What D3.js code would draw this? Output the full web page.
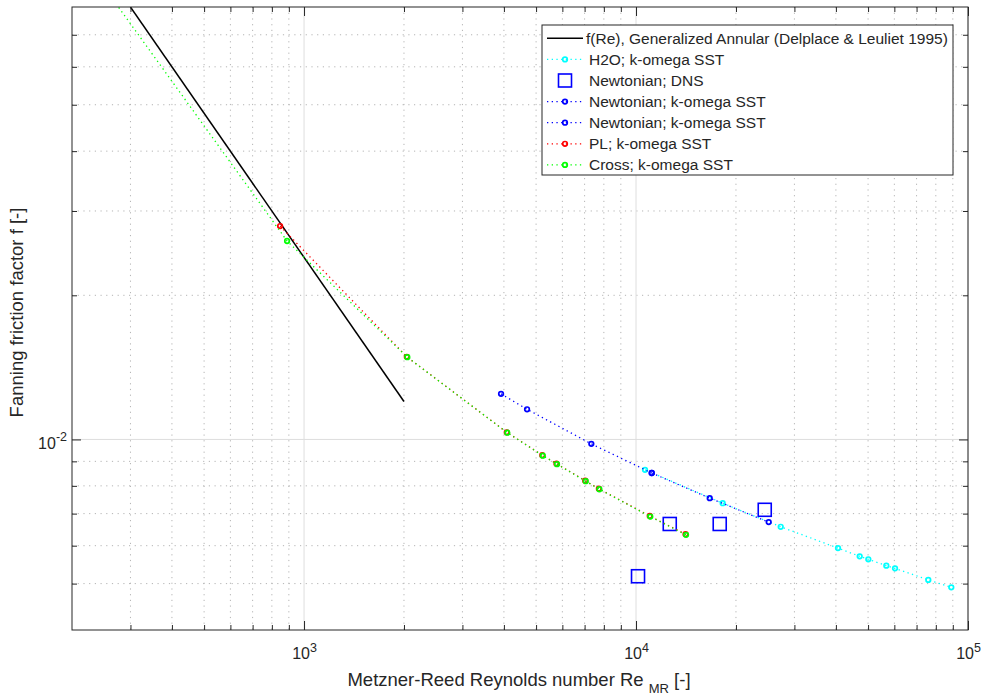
<!DOCTYPE html>
<html><head><meta charset="utf-8">
<script src="https://cdn.jsdelivr.net/npm/d3@7"></script>
<style>
body{margin:0;background:#fff}
svg{display:block}
text{font-family:"Liberation Sans",Arial,Helvetica,sans-serif;fill:#262626}
</style>
</head><body><svg id="c" width="988" height="698"></svg>
<script>
// ---------------- data ----------------
const corrRe = [300, 2000];
const corrF  = [0.08, 0.012];
const h2oRe  = [10643, 18243, 27280, 40590, 47180, 50090, 56750, 60280, 75930, 89060];
const h2oF   = [0.00864, 0.00736, 0.00657, 0.00593, 0.00570, 0.00562, 0.00545, 0.00538, 0.00509, 0.00491];
const dnsRe  = [10140, 12636, 17870, 24420];
const dnsF   = [0.00518, 0.00666, 0.00666, 0.00713];
const newt1Re = [3921, 4696, 7335, 11151];
const newt1F  = [0.01245, 0.01156, 0.00979, 0.00851];
const newt2Re = [11151, 16672, 25100];
const newt2F  = [0.00851, 0.00754, 0.00672];
const plRe   = [847, 2040, 4080, 5220, 5760, 7030, 7730, 11000, 14100];
const plF    = [0.0279, 0.01488, 0.01035, 0.00927, 0.0089, 0.0082, 0.00789, 0.00692, 0.00634];
const crossRe = [200, 889, 2047, 4096, 5236, 5781, 7056, 7755, 11040, 14145];
const crossF  = [0.109, 0.02597, 0.01485, 0.01033, 0.00925, 0.00888, 0.00818, 0.00787, 0.0069, 0.00632];

const legendLabels = [
  "f(Re), Generalized Annular (Delplace & Leuliet 1995)",
  "H2O; k-omega SST",
  "Newtonian; DNS",
  "Newtonian; k-omega SST",
  "Newtonian; k-omega SST",
  "PL; k-omega SST",
  "Cross; k-omega SST"
];
const xMajor = [1e3, 1e4, 1e5];
const xMajorExp = ["3", "4", "5"];
const xMinor = [300,400,500,600,700,800,900,2000,3000,4000,5000,6000,7000,8000,9000,20000,30000,40000,50000,60000,70000,80000,90000];
const yMajor = [0.01];
const yMajorExp = ["-2"];
const yMinor = [0.005,0.006,0.007,0.008,0.009,0.02,0.03,0.04,0.05,0.06,0.07];
const xLabelMain = "Metzner-Reed Reynolds number Re ";
const xLabelSub = "MR";
const xLabelEnd = " [-]";
const yLabel = "Fanning friction factor f [-]";

// ---------------- layout ----------------
const L = 72, R = 968, T = 7, B = 630;
const svg = d3.select("#c");
const x = d3.scaleLog().domain([200, 1e5]).range([L, R]);
const y = d3.scaleLog().domain([0.004, 0.08]).range([B, T]);

svg.append("rect").attr("width", 988).attr("height", 698).attr("fill", "#fff");

// grid
const grid = svg.append("g");
grid.selectAll(".xm").data(xMinor).enter().append("line")
  .attr("x1", d => x(d)).attr("x2", d => x(d)).attr("y1", T).attr("y2", B)
  .attr("stroke", "#b4b4b4").attr("stroke-width", 1).attr("stroke-dasharray", "1.2 4.5");
grid.selectAll(".ym").data(yMinor).enter().append("line")
  .attr("y1", d => y(d)).attr("y2", d => y(d)).attr("x1", L).attr("x2", R)
  .attr("stroke", "#b4b4b4").attr("stroke-width", 1).attr("stroke-dasharray", "1.2 4.5");
grid.selectAll(".xM").data(xMajor).enter().append("line")
  .attr("x1", d => x(d)).attr("x2", d => x(d)).attr("y1", T).attr("y2", B)
  .attr("stroke", "#dedede").attr("stroke-width", 1);
grid.selectAll(".yM").data(yMajor).enter().append("line")
  .attr("y1", d => y(d)).attr("y2", d => y(d)).attr("x1", L).attr("x2", R)
  .attr("stroke", "#dedede").attr("stroke-width", 1);

// clip
svg.append("clipPath").attr("id", "clip").append("rect")
  .attr("x", L).attr("y", T).attr("width", R - L).attr("height", B - T);
const plot = svg.append("g").attr("clip-path", "url(#clip)");

const line = d3.line().x(d => x(d[0])).y(d => y(d[1]));
const zip = (a, b) => a.map((v, i) => [v, b[i]]);
const MR = 2.3, MSW = 1.7;

function series(re, f, color, dotted, markers) {
  const pts = zip(re, f);
  plot.append("path").datum(pts).attr("d", line)
    .attr("fill", "none").attr("stroke", color)
    .attr("stroke-width", dotted ? 1.3 : 1.5)
    .attr("stroke-dasharray", dotted ? "1.3 3.4" : null);
  if (markers) {
    plot.selectAll(null).data(pts).enter().append("circle")
      .attr("cx", d => x(d[0])).attr("cy", d => y(d[1])).attr("r", MR)
      .attr("fill", "none").attr("stroke", color).attr("stroke-width", MSW);
  }
}
series(corrRe, corrF, "#000", false, false);
series(h2oRe, h2oF, "#00ffff", true, true);
// DNS squares
plot.selectAll(null).data(zip(dnsRe, dnsF)).enter().append("rect")
  .attr("x", d => x(d[0]) - 6.5).attr("y", d => y(d[1]) - 6.5)
  .attr("width", 13).attr("height", 13)
  .attr("fill", "none").attr("stroke", "#0000ff").attr("stroke-width", 1.6);
series(newt1Re, newt1F, "#0000ff", true, true);
series(newt2Re, newt2F, "#0000ff", true, true);
series(plRe, plF, "#ff0000", true, true);
series(crossRe, crossF, "#00ff00", true, true);

// axes (ticks inside, all four sides)
const fmtNone = () => "";
function styleAxis(g) {
  g.select(".domain").remove();
  g.selectAll(".tick line").attr("stroke", "#262626").attr("stroke-width", 1);
}
svg.append("g").attr("transform", `translate(0,${B})`)
  .call(d3.axisBottom(x).tickValues(xMinor).tickSize(-5).tickFormat(fmtNone)).call(styleAxis);
svg.append("g").attr("transform", `translate(0,${T})`)
  .call(d3.axisTop(x).tickValues(xMinor).tickSize(-5).tickFormat(fmtNone)).call(styleAxis);
svg.append("g").attr("transform", `translate(${L},0)`)
  .call(d3.axisLeft(y).tickValues(yMinor).tickSize(-5).tickFormat(fmtNone)).call(styleAxis);
svg.append("g").attr("transform", `translate(${R},0)`)
  .call(d3.axisRight(y).tickValues(yMinor).tickSize(-5).tickFormat(fmtNone)).call(styleAxis);
svg.append("g").attr("transform", `translate(0,${T})`)
  .call(d3.axisTop(x).tickValues(xMajor).tickSize(-9).tickFormat(fmtNone)).call(styleAxis);
svg.append("g").attr("transform", `translate(${R},0)`)
  .call(d3.axisRight(y).tickValues(yMajor).tickSize(-9).tickFormat(fmtNone)).call(styleAxis);

const xAx = svg.append("g").attr("transform", `translate(0,${B})`)
  .call(d3.axisBottom(x).tickValues(xMajor).tickSize(-9).tickFormat(fmtNone)).call(styleAxis);
xAx.selectAll(".tick text").each(function(d, i) {
  const t = d3.select(this).attr("y", 29).attr("dy", 0).attr("x", 0)
    .attr("text-anchor", "middle").style("font-size", "16px").attr("fill", "#262626");
  t.text(null);
  t.append("tspan").text("10");
  t.append("tspan").attr("dy", -7.5).style("font-size", "12.5px").text(xMajorExp[i]);
});
const yAx = svg.append("g").attr("transform", `translate(${L},0)`)
  .call(d3.axisLeft(y).tickValues(yMajor).tickSize(-9).tickFormat(fmtNone)).call(styleAxis);
yAx.selectAll(".tick text").each(function(d, i) {
  const t = d3.select(this).attr("x", -5).attr("dy", 0).attr("y", 9)
    .attr("text-anchor", "end").style("font-size", "16px").attr("fill", "#262626");
  t.text(null);
  t.append("tspan").text("10");
  t.append("tspan").attr("dy", -7.5).style("font-size", "12.5px").text(yMajorExp[i]);
});

// box
svg.append("rect").attr("x", L).attr("y", T).attr("width", R - L).attr("height", B - T)
  .attr("fill", "none").attr("stroke", "#262626").attr("stroke-width", 1);

// axis labels
const xl = svg.append("text").attr("x", (L + R) / 2 - 1).attr("y", 686)
  .attr("text-anchor", "middle").style("font-size", "18.5px");
xl.append("tspan").text(xLabelMain);
xl.append("tspan").attr("dy", 7).style("font-size", "13px").text(xLabelSub);
xl.append("tspan").attr("dy", -7).text(xLabelEnd);

svg.append("text").attr("transform", "translate(23,312.5) rotate(-90)")
  .attr("text-anchor", "middle").style("font-size", "18.5px").text(yLabel);

// legend
const lg = svg.append("g");
lg.append("rect").attr("x", 542).attr("y", 25).attr("width", 411).attr("height", 150)
  .attr("fill", "#fff").attr("stroke", "#262626").attr("stroke-width", 1);
const legStyles = [
  {c: "#000", dotted: false, marker: null},
  {c: "#00ffff", dotted: true, marker: "o"},
  {c: "#0000ff", dotted: null, marker: "s"},
  {c: "#0000ff", dotted: true, marker: "o"},
  {c: "#0000ff", dotted: true, marker: "o"},
  {c: "#ff0000", dotted: true, marker: "o"},
  {c: "#00ff00", dotted: true, marker: "o"}
];
legendLabels.forEach((lab, i) => {
  const cy = 38.3 + i * 21.1;
  const s = legStyles[i];
  if (s.dotted !== null) {
    lg.append("line").attr("x1", 547).attr("x2", 583).attr("y1", cy).attr("y2", cy)
      .attr("stroke", s.c).attr("stroke-width", s.dotted ? 1.3 : 1.5)
      .attr("stroke-dasharray", s.dotted ? "1.3 3.4" : null);
  }
  if (s.marker === "o") {
    lg.append("circle").attr("cx", 565).attr("cy", cy).attr("r", MR)
      .attr("fill", "none").attr("stroke", s.c).attr("stroke-width", MSW);
  } else if (s.marker === "s") {
    lg.append("rect").attr("x", 565 - 6.5).attr("y", cy - 6.5).attr("width", 13).attr("height", 13)
      .attr("fill", "none").attr("stroke", s.c).attr("stroke-width", 1.6);
  }
  lg.append("text").attr("x", i === 0 ? 586 : 589).attr("y", cy + 5.5)
    .style("font-size", "15.5px").attr("fill", "#000").text(lab);
});
</script>
</body></html>
